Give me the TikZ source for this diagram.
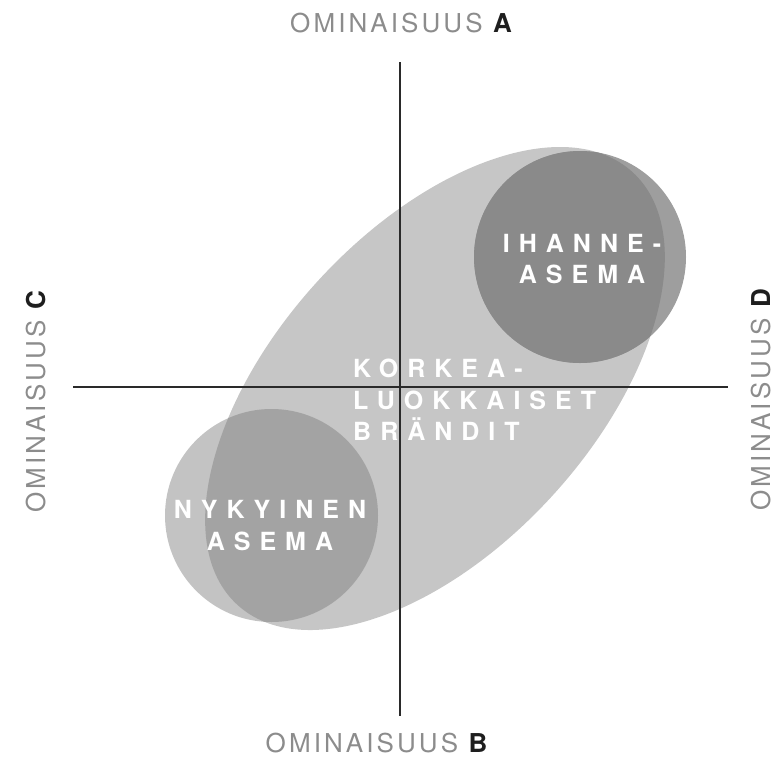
\documentclass[tikz,border=0pt]{standalone}
\usepackage{fontspec}
\setmainfont{TeX Gyre Heros}
\newfontfamily\axisfont[LetterSpace=12]{TeX Gyre Heros}
\newfontfamily\zonefont[LetterSpace=36]{TeX Gyre Heros}
\definecolor{ellgray}{HTML}{C6C6C6}
\definecolor{idealin}{HTML}{8A8A8A}
\definecolor{idealout}{HTML}{9E9E9E}
\definecolor{nowin}{HTML}{A3A3A3}
\definecolor{nowout}{HTML}{C3C3C3}
\definecolor{axisgray}{HTML}{2A2A2A}
\definecolor{labelgray}{HTML}{8C8C8C}
\definecolor{letterblack}{HTML}{1E1E1E}
\tikzset{
  zonetext/.style={text=white, inner sep=0pt, font=\zonefont\bfseries\fontsize{25}{31.5}\selectfont},
  axislabel/.style={inner sep=0pt, font=\axisfont\fontsize{26}{30}\selectfont},
  axisline/.style={axisgray, line width=2pt},
}
\newcommand{\axisname}[1]{\textcolor{labelgray}{OMINAISUUS} \textcolor{letterblack}{\bfseries #1}}

\begin{document}
\begin{tikzpicture}[x=1pt,y=-1pt]
    \useasboundingbox (0,0) rectangle (784,758);

    % Points
    \coordinate (E) at (435,388.5);   % centre de l'ellipse
    \coordinate (I) at (580,257);     % ihanneasema
    \coordinate (N) at (271.5,515.5); % nykyinen asema
    \coordinate (top) at (400,62);
    \coordinate (bottom) at (400,716);
    \coordinate (left) at (73,387);
    \coordinate (right) at (728,387);

    % Ellipse et cercles
    \fill[ellgray, rotate around={47.6:(E)}] (E) ellipse [x radius=293, y radius=159];
    \fill[idealout] (I) circle [radius=106];
    \fill[nowout] (N) circle [radius=106.5];
    \begin{scope}
        \clip[rotate around={47.6:(E)}] (E) ellipse [x radius=293, y radius=159];
        \fill[idealin] (I) circle [radius=106];
        \fill[nowin] (N) circle [radius=106.5];
    \end{scope}

    % Textes
    \node[zonetext, align=center] (ideal) at (582,259) {IHANNE-\\ASEMA};
    \node[zonetext, align=left, anchor=west] (brands) at (353,400) {KORKEA-\\LUOKKAISET\\BRÄNDIT};
    \node[zonetext, align=center] (current) at (270,525.5) {NYKYINEN\\ASEMA};

    % Axes
    \draw[axisline] (top) -- (bottom);
    \draw[axisline] (left) -- (right);

    % Labels des axes
    \node[axislabel] (labA) at (401,23) {\axisname{A}};
    \node[axislabel] (labB) at (376.5,743.5) {\axisname{B}};
    \node[axislabel, rotate=90] (labC) at (36,402) {\axisname{C}};
    \node[axislabel, rotate=90] (labD) at (761,400) {\axisname{D}};

\end{tikzpicture}
\end{document}
